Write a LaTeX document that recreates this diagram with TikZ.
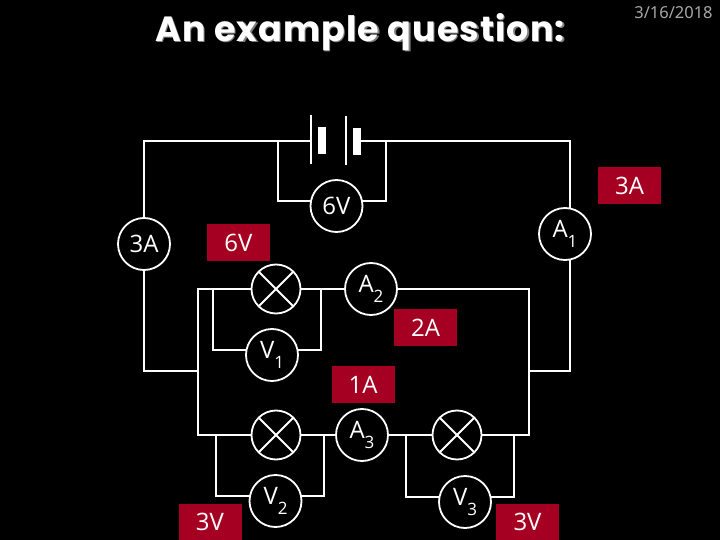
\documentclass[tikz,border=0pt]{standalone}
\usepackage{fontspec}
\usetikzlibrary{backgrounds}
\setmainfont{Open Sans}
\newfontfamily\titlefont[LetterSpace=3]{Poppins}
\newfontfamily\datefont{Noto Sans}
\definecolor{tagred}{HTML}{A50021}
\definecolor{dategray}{HTML}{A8A8A8}
\definecolor{shadowgray}{HTML}{808080}
\newcommand{\metersub}[2]{#1\raisebox{-0.42em}{\fontsize{17}{17}\selectfont #2}}
\tikzset{
  wire/.style={draw=white,line width=2pt,line cap=rect,line join=miter},
  meter/.style={circle,draw=white,fill=black,line width=1.8pt,minimum size=52pt,inner sep=0pt,outer sep=0pt,text=white,font=\fontsize{24}{24}\selectfont},
  lamp/.style={circle,draw=white,fill=black,line width=1.8pt,minimum size=49pt,inner sep=0pt,outer sep=0pt},
  tag/.style={fill=tagred,text=white,inner sep=0pt,outer sep=0pt,minimum width=63pt,minimum height=37pt,font=\fontsize{24}{24}\selectfont},
  platelong/.style={draw=white,line width=2pt},
  platethick/.style={fill=white,draw=none,minimum width=8pt,minimum height=27pt,inner sep=0pt,outer sep=0pt},
  headline/.style={font=\titlefont\bfseries\fontsize{35}{35}\selectfont,inner sep=0pt,outer sep=0pt}
}
\begin{document}
\begin{tikzpicture}[x=1pt,y=-1pt]
\useasboundingbox (0,0) rectangle (720,540);
% meters
\node[meter] (vbat) at (336.5,206) {6V};
\node[meter] (aleft) at (144,244) {3A};
\node[meter] (a1) at (565,234) {\metersub{A}{1}};
\node[meter] (a2) at (371,289) {\metersub{A}{2}};
\node[meter] (v1) at (272,355) {\metersub{V}{1}};
\node[meter] (a3) at (362,435) {\metersub{A}{3}};
\node[meter] (v2) at (275.5,501) {\metersub{V}{2}};
\node[meter] (v3) at (465,502) {\metersub{V}{3}};
% lamps
\node[lamp] (l1) at (276,289) {};
\node[lamp] (l2) at (276,435) {};
\node[lamp] (l3) at (457,435) {};
\foreach \n in {l1,l2,l3}{
  \draw[wire,line cap=butt] (\n.45) -- (\n.225);
  \draw[wire,line cap=butt] (\n.135) -- (\n.315);
}
% battery
\coordinate (p1a) at (311,115);
\coordinate (p1b) at (311,164);
\coordinate (p1m) at (311,141);
\coordinate (p2a) at (346,116);
\coordinate (p2b) at (346,165);
\node[platethick] (t1) at (322,140.5) {};
\node[platethick] (t2) at (357,141.5) {};
\draw[platelong] (p1a) -- (p1b);
\draw[platelong] (p2a) -- (p2b);
% tags
\node[tag] (tag6) at (238.5,242.5) {6V};
\node[tag] (tag3a) at (629.5,186) {3A};
\node[tag] (tag2a) at (425.5,327.5) {2A};
\node[tag] (tag1a) at (363,384.5) {1A};
\node[tag,minimum height=36pt,anchor=north] (tag3vl) at (210,504) {3V};
\node[tag,minimum height=36pt,anchor=north] (tag3vr) at (527.5,504) {3V};
% title and date
\node[headline,text=shadowgray] (titleshadow) at (361.5,33.5) {An example question:};
\node[headline,text=white] (titletext) at (360,32) {An example question:};
\node[text=dategray,font=\datefont\fontsize{16.5}{16.5}\selectfont,inner sep=0pt] (datetext) at (673.5,13) {3/16/2018};
% wiring corners
\coordinate (tl) at (144,141);
\coordinate (tr) at (570,141);
\coordinate (vl) at (278,141);
\coordinate (vr) at (386,141);
\coordinate (vld) at (278,201);
\coordinate (vrd) at (386,201);
\coordinate (ll) at (144,371);
\coordinate (lj) at (198,371);
\coordinate (rr) at (570,371);
\coordinate (rj) at (528.5,371);
\coordinate (ntl) at (198,289);
\coordinate (nbl) at (198,435);
\coordinate (ntr) at (528.5,289);
\coordinate (nbr) at (528.5,435);
\coordinate (v1lt) at (213,289);
\coordinate (v1rt) at (321,289);
\coordinate (v1ld) at (213,349.5);
\coordinate (v1rd) at (321,349.5);
\coordinate (v2lt) at (216,435);
\coordinate (v2rt) at (324,435);
\coordinate (v2ld) at (216,496);
\coordinate (v2rd) at (324,496);
\coordinate (v3lt) at (406,435);
\coordinate (v3rt) at (514,435);
\coordinate (v3ld) at (406,497);
\coordinate (v3rd) at (514,497);
\coordinate (t2e) at (361,141);
\begin{scope}[on background layer]
\fill[black] (0,0) rectangle (720,540);
\draw[wire] (p1m) -- (tl) -- (tl |- aleft);
\draw[wire] (tl |- aleft) -- (ll) -- (lj);
\draw[wire] (t2e) -- (tr) -- (rr) -- (rj);
\draw[wire] (vl) -- (vld) -- (vld -| vbat);
\draw[wire] (vr) -- (vrd) -- (vrd -| vbat);
\draw[wire] (nbl) -- (ntl) -- (l1);
\draw[wire] (l1) -- (a2);
\draw[wire] (a2) -- (ntr) -- (nbr) -- (l3);
\draw[wire] (nbl) -- (l2);
\draw[wire] (l2) -- (a3);
\draw[wire] (a3) -- (l3);
\draw[wire] (v1lt) -- (v1ld) -- (v1ld -| v1);
\draw[wire] (v1rt) -- (v1rd) -- (v1rd -| v1);
\draw[wire] (v2lt) -- (v2ld) -- (v2ld -| v2);
\draw[wire] (v2rt) -- (v2rd) -- (v2rd -| v2);
\draw[wire] (v3lt) -- (v3ld) -- (v3ld -| v3);
\draw[wire] (v3rt) -- (v3rd) -- (v3rd -| v3);
\end{scope}
\end{tikzpicture}
\end{document}
